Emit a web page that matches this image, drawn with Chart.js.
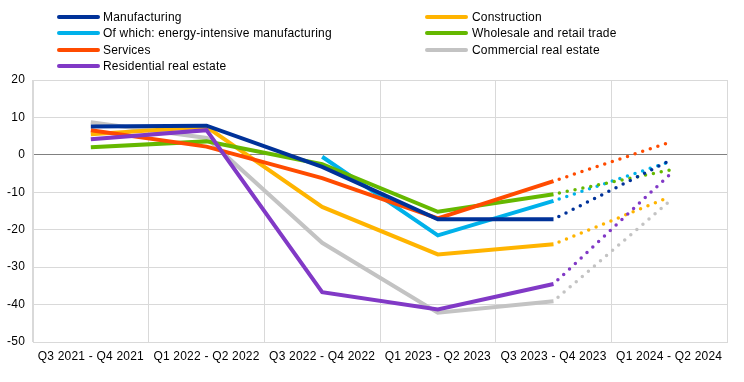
<!DOCTYPE html>
<html>
<head>
<meta charset="utf-8">
<script src="https://cdn.jsdelivr.net/npm/chart.js@4/dist/chart.umd.min.js"></script>
<style>
html,body{margin:0;padding:0;background:#fff;}
#wrap{position:relative;width:744px;height:382px;}
#c{position:absolute;left:0;top:0;}
.lg{position:absolute;font-family:"Liberation Sans",Arial,sans-serif;font-size:12px;color:#000;line-height:14px;white-space:nowrap;letter-spacing:0.2px;}
.lg .sw{position:absolute;top:5px;height:4px;border-radius:2px;}
</style>
</head>
<body>
<div id="wrap"><canvas id="c" width="744" height="382"></canvas></div>
<script>
const categories = ["Q3 2021 - Q4 2021","Q1 2022 - Q2 2022","Q3 2022 - Q4 2022","Q1 2023 - Q2 2023","Q3 2023 - Q4 2023","Q1 2024 - Q2 2024"];
const seriesNames = ["Manufacturing","Construction","Of which: energy-intensive manufacturing","Wholesale and retail trade","Services","Commercial real estate","Residential real estate"];
const manufacturing = [7.6, 7.8, -3.2, -17.2, -17.2, -1.6];
const construction = [5.5, 7.5, -13.9, -26.6, -23.9, -11.3];
const energyIntensive = [null, null, -0.5, -21.5, -12.3, -1.9];
const wholesale = [2.0, 3.6, -2.5, -15.2, -10.5, -4.1];
const services = [6.6, 2.2, -6.2, -17.0, -7.0, 3.3];
const commercialRE = [8.7, 4.5, -23.5, -42.2, -39.1, -12.5];
const residentialRE = [4.2, 6.6, -36.7, -41.3, -34.5, -5.4];
const yTicks = [20, 10, 0, -10, -20, -30, -40, -50];
const projectedFrom = 4;

const colors = ["#003299","#ffb400","#00b1ea","#65b800","#ff4b00","#c3c3c3","#8139c6"];
const values = [manufacturing, construction, energyIntensive, wholesale, services, commercialRE, residentialRE];
// draw order: later datasets on top
const drawOrder = [5,1,2,3,4,0,6];

const datasets = drawOrder.map((i, k) => ({
  label: seriesNames[i],
  data: values[i],
  borderColor: colors[i],
  backgroundColor: colors[i],
  borderWidth: 4,
  pointRadius: 0,
  pointHoverRadius: 0,
  tension: 0,
  fill: false,
  spanGaps: false,
  borderCapStyle: 'butt',
  borderJoinStyle: 'miter',
  order: drawOrder.length - k,
  segment: {
    borderDash: ctx => ctx.p0DataIndex >= projectedFrom ? [0, 8] : undefined,
    borderDashOffset: ctx => ctx.p0DataIndex >= projectedFrom ? 2 : undefined,
    borderCapStyle: ctx => ctx.p0DataIndex >= projectedFrom ? 'round' : undefined,
    borderWidth: ctx => ctx.p0DataIndex >= projectedFrom ? 3.5 : undefined
  }
}));

const spacing = {
  id: 'spacing',
  beforeDraw(chart) { chart.ctx.letterSpacing = '0.2px'; }
};

new Chart(document.getElementById('c'), {
  type: 'line',
  data: { labels: categories, datasets },
  plugins: [spacing],
  options: {
    responsive: false,
    animation: false,
    events: [],
    layout: { padding: { top: 80, right: 17, bottom: 0, left: 0 } },
    plugins: { legend: { display: false }, tooltip: { enabled: false } },
    scales: {
      x: {
        offset: true,
        grid: { offset: true, color: '#d9d9d9', lineWidth: 1, drawTicks: false },
        border: { display: true, color: '#d9d9d9' },
        ticks: { color: '#000', font: { family: '"Liberation Sans", Arial, sans-serif', size: 12 }, padding: 7, maxRotation: 0, autoSkip: false },
        afterFit: s => { s.height = 40; }
      },
      y: {
        min: -50, max: 20,
        afterBuildTicks: s => { s.ticks = yTicks.map(v => ({ value: v })); },
        grid: { color: ctx => ctx.tick && ctx.tick.value === 0 ? '#808080' : '#d9d9d9', lineWidth: 1, drawTicks: false },
        border: { display: true, color: '#d9d9d9' },
        ticks: { color: '#000', font: { family: '"Liberation Sans", Arial, sans-serif', size: 12 }, padding: 8 },
        afterFit: s => { s.width = 33; }
      }
    }
  }
});

// HTML legend, two columns
const legendOrder = [0,1,2,3,4,5,6];
const wrap = document.getElementById('wrap');
legendOrder.forEach((i, k) => {
  const col = k % 2, row = Math.floor(k / 2);
  const d = document.createElement('div');
  d.className = 'lg';
  const swLeft = col === 0 ? 57 : 425;
  d.style.left = swLeft + 'px';
  d.style.top = (10 + row * 16.3) + 'px';
  d.style.paddingLeft = (col === 0 ? 46 : 47) + 'px';
  const sw = document.createElement('span');
  sw.className = 'sw';
  sw.style.left = '0px';
  sw.style.width = '43px';
  sw.style.background = colors[i];
  d.appendChild(sw);
  d.appendChild(document.createTextNode(seriesNames[i]));
  wrap.appendChild(d);
});
</script>
</body>
</html>
